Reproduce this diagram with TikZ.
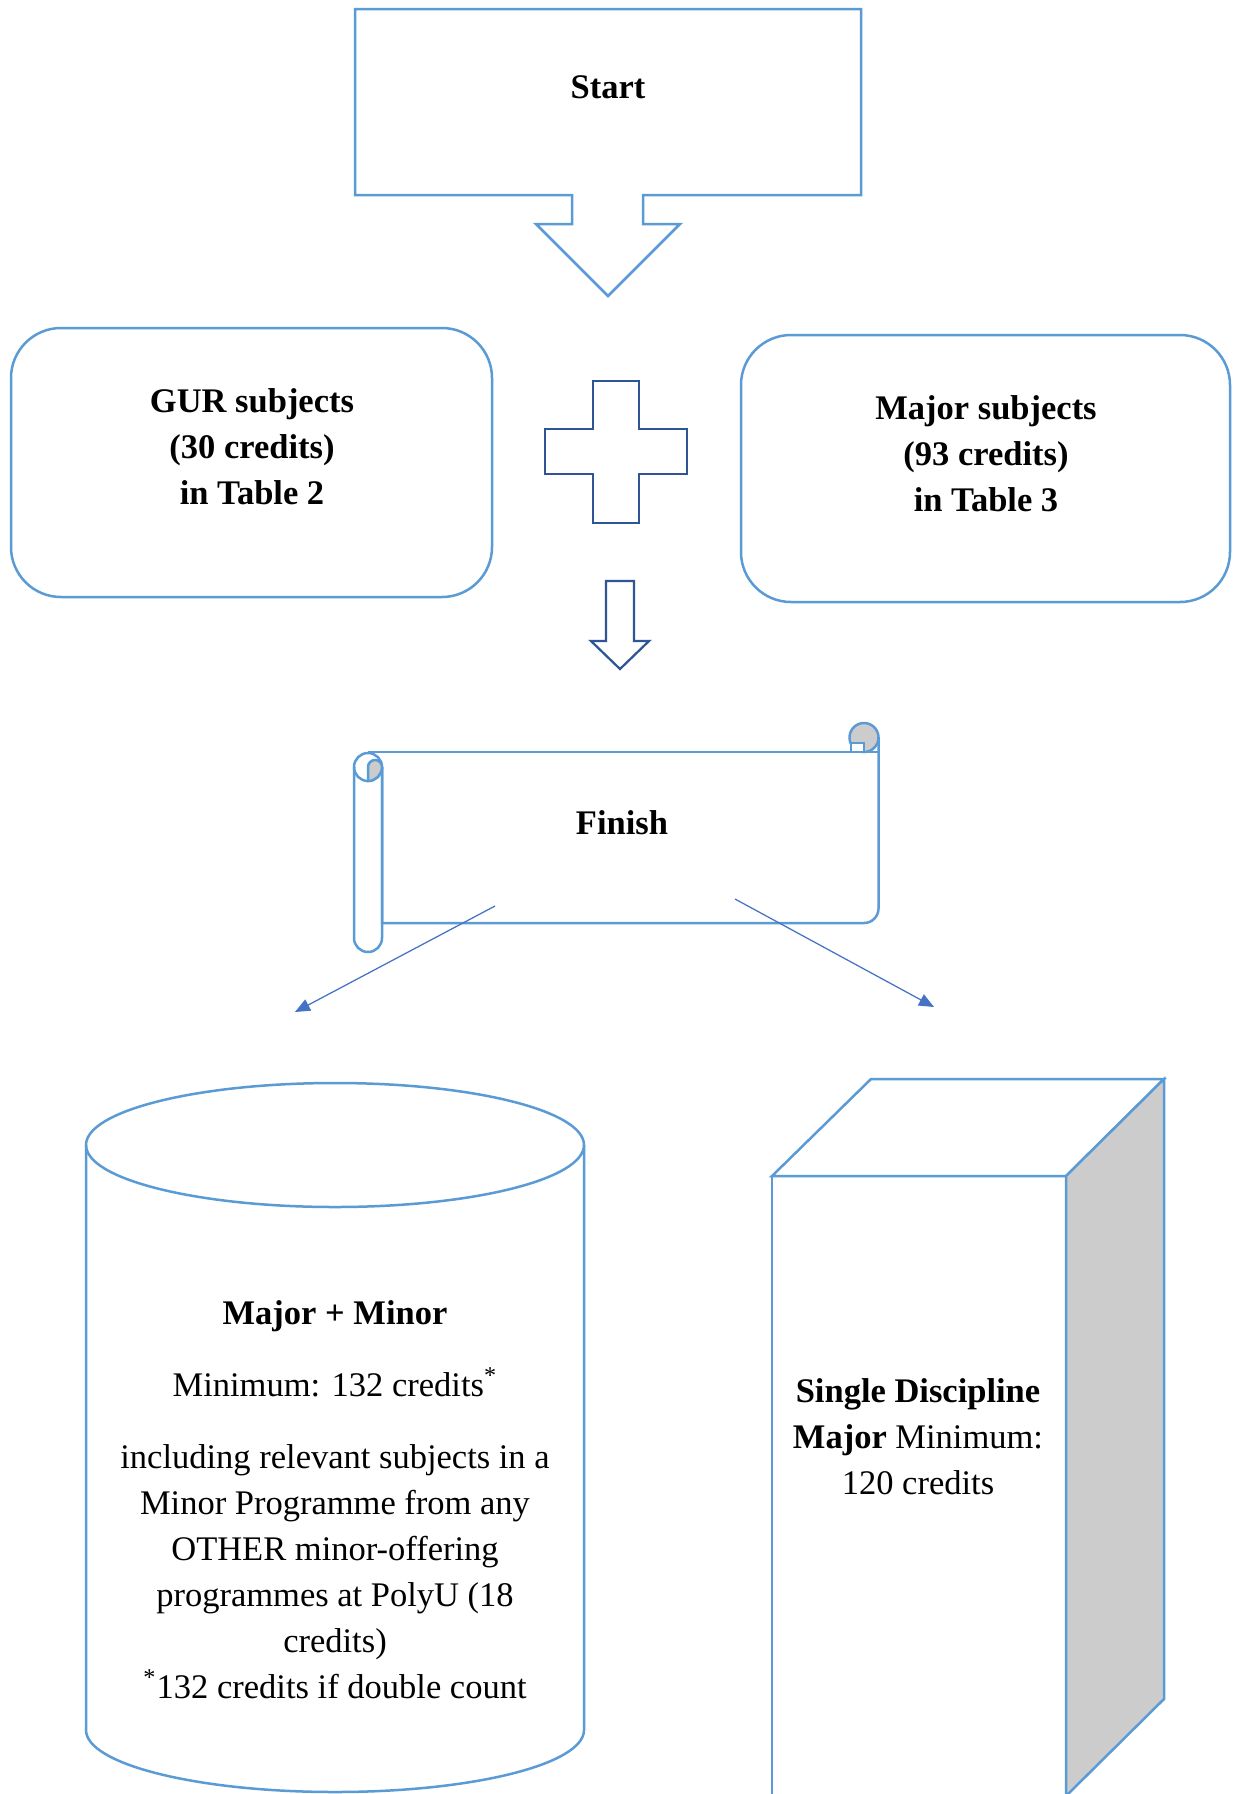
\documentclass[tikz,border=0pt]{standalone}
\usepackage{fontspec}
\setmainfont{Liberation Serif}
\usetikzlibrary{arrows.meta}
\definecolor{boxblue}{HTML}{5B9BD5}
\definecolor{darkblue}{HTML}{2F5597}
\definecolor{arrblue}{HTML}{4472C4}
\definecolor{curlgray}{HTML}{CCCCCC}

\begin{document}
\begin{tikzpicture}[x=0.4pt,y=0.4pt,
	outl/.style={draw=boxblue,line width=1pt},
	dark/.style={draw=darkblue,line width=0.9pt},
	arr/.style={draw=arrblue,line width=0.5pt,-{Triangle[length=6pt,width=5pt]}},
	txt/.style={align=center,font=\fontsize{13.8}{18.4}\selectfont},
	btxt/.style={txt,font=\fontsize{13.8}{18.4}\selectfont\bfseries}]
	\useasboundingbox (0,0) rectangle (1233,-1794);
	\fill[white] (0,0) rectangle (1233,-1794);
	\draw[outl] (355,-9) -- (861,-9) -- (861,-195) -- (643,-195) -- (643,-224) -- (680,-224)
		-- (608,-296) -- (536,-224) -- (572,-224) -- (572,-195) -- (355,-195) -- cycle;
	\node[btxt] (start) at (608,-87) {Start};
	\draw[outl,rounded corners=20pt] (11,-328) rectangle (492,-597);
	\node[btxt] (gur) at (252,-447) {GUR subjects\\(30 credits)\\in Table 2};
	\draw[outl,rounded corners=20pt] (741,-335) rectangle (1230,-602);
	\node[btxt] (major) at (986,-454) {Major subjects\\(93 credits)\\in Table 3};
	\draw[dark] (593,-381) -- (639,-381) -- (639,-429) -- (687,-429) -- (687,-474) -- (639,-474)
		-- (639,-523) -- (593,-523) -- (593,-474) -- (545,-474) -- (545,-429) -- (593,-429) -- cycle;
	\draw[dark] (606,-581) -- (634,-581) -- (634,-641) -- (649,-641) -- (620,-669) -- (591,-641)
		-- (606,-641) -- cycle;
	% scroll
	\draw[outl] (382,-767) -- (382,-923) -- (864,-923) arc[start angle=-90,end angle=0,radius=5.8pt] -- (878.5,-737);
	\draw[outl] (368,-752) -- (878.5,-752);
	\draw[outl] (354,-767) -- (354,-938) arc[start angle=180,end angle=360,radius=5.6pt] -- (382,-767);
	\draw[outl] (354,-767) arc[start angle=180,end angle=0,radius=5.6pt];
	\draw[outl] (354,-767) arc[start angle=180,end angle=360,radius=5.6pt];
	\filldraw[outl,fill=curlgray] (368,-781) -- (368,-767) arc[start angle=180,end angle=0,radius=2.8pt]
		arc[start angle=0,end angle=-90,radius=5.6pt] -- cycle;
	\filldraw[outl,fill=curlgray] (864,-737.5) circle[radius=5.8pt];
	\filldraw[outl,fill=white] (851,-743) rectangle (864,-752);
	\node[btxt] (finish) at (622,-823) {Finish};
	\coordinate (finL) at (495,-906);
	\coordinate (tipL) at (295,-1012);
	\coordinate (finR) at (735,-899);
	\coordinate (tipR) at (934,-1007);
	\draw[arr] (finL) -- (tipL);
	\draw[arr] (finR) -- (tipR);
	% cylinder
	\draw[outl] (86,-1145) -- (86,-1730) arc[start angle=180,end angle=360,x radius=99.6pt,y radius=24.8pt] -- (584,-1145);
	\draw[outl] (335,-1145) ellipse[x radius=99.6pt,y radius=24.8pt];
	\node[txt] (mm) at (335,-1500) {\textbf{Major + Minor}\\[10.4pt]
		Minimum: 132 credits\textsuperscript{*}\\[10.4pt]
		including relevant subjects in a\\Minor Programme from any\\OTHER minor-offering\\
		programmes at PolyU (18\\credits)\\\textsuperscript{*}132 credits if double count};
	% cube
	\draw[outl] (772,-1176) rectangle (1066,-1796);
	\draw[outl] (772,-1176) -- (871,-1079) -- (1164,-1079) -- (1066,-1176) -- cycle;
	\filldraw[outl,fill=curlgray] (1066,-1176) -- (1164,-1079) -- (1164,-1699) -- (1066,-1796) -- cycle;
	\node[txt] (sd) at (918,-1437) {\textbf{Single Discipline}\\\textbf{Major} Minimum:\\120 credits};
\end{tikzpicture}
\end{document}
